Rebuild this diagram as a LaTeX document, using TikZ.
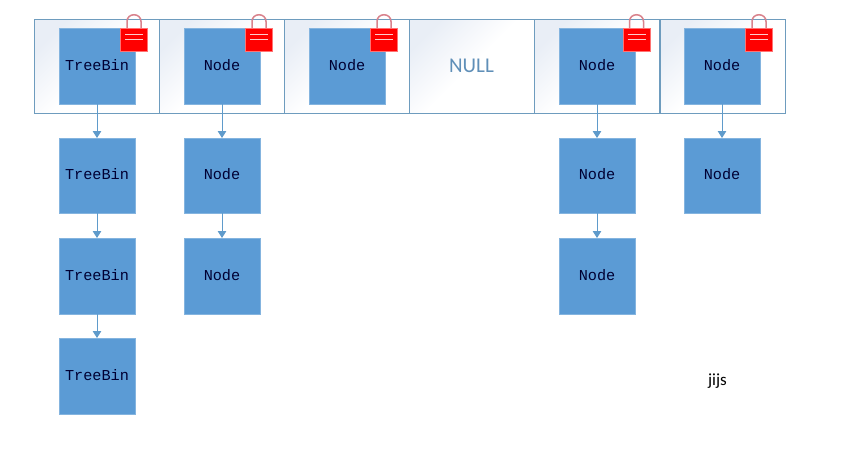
\documentclass[tikz,border=0pt]{standalone}
\usepackage{fontspec}
\setmainfont{Carlito}
\newfontfamily\codefont{Liberation Mono}
\usetikzlibrary{arrows.meta,shadows}
\definecolor{boxblue}{HTML}{5B9BD5}
\definecolor{cellline}{HTML}{6E9CBE}
\definecolor{arrowblue}{HTML}{5F9BCB}
\definecolor{nulltext}{HTML}{5F8FB8}
\definecolor{cellshade}{HTML}{E9EEF6}
\definecolor{shacklec}{HTML}{D9828C}
\tikzset{
  cellbox/.style={draw=cellline,line width=0.9pt,minimum width=125pt,minimum height=94pt,inner sep=0pt,outer sep=0pt,left color=cellshade,right color=white,middle color=white,shading angle=45},
  itembox/.style={fill=boxblue,draw=boxblue!75!white,line width=0.6pt,minimum width=76pt,minimum height=76pt,inner sep=0pt,outer sep=0pt,font=\codefont\fontsize{15.2}{16}\selectfont,text=black!80!blue,text height=10pt,text depth=2pt,drop shadow={shadow xshift=0pt,shadow yshift=-1pt,opacity=.18,fill=black}},
  lockbody/.style={fill=red,draw=red!55!white,line width=0.7pt,minimum width=27pt,minimum height=23pt,inner sep=0pt,outer sep=0pt,drop shadow={shadow xshift=0.5pt,shadow yshift=-0.5pt,opacity=.2,fill=black}},
  linkarrow/.style={draw=arrowblue,line width=1pt,-{Triangle[length=7pt,width=8.5pt,fill=arrowblue]}},
}
\newcommand{\padlock}[3]{%
  \draw[shacklec,line width=1.5pt,line cap=round] (#2-7,#3-11) -- (#2-7,#3-18) .. controls (#2-7,#3-27) and (#2+7,#3-27) .. (#2+7,#3-18) -- (#2+7,#3-11);
  \node[lockbody] (#1) at (#2,#3) {};
  \draw[white!80!red,line width=0.8pt] ([xshift=-9pt,yshift=-6pt]#1.north) -- ([xshift=9pt,yshift=-6pt]#1.north);
  \draw[white!80!red,line width=0.8pt] ([xshift=-9pt,yshift=-11pt]#1.north) -- ([xshift=9pt,yshift=-11pt]#1.north);
}
\begin{document}
\begin{tikzpicture}[x=1pt,y=-1pt]
\useasboundingbox (0,0) rectangle (860,451);
\fill[white] (0,0) rectangle (860,451);
% table cells
\node[cellbox] (c1) at (97,66) {};
\node[cellbox] (c2) at (221.5,66) {};
\node[cellbox] (c3) at (346.5,66) {};
\node[cellbox] (c4) at (471.5,66) {};
\node[cellbox] (c5) at (597,66) {};
\node[cellbox] (c6) at (722.5,66) {};
\node[font=\fontsize{21}{24}\selectfont,text=nulltext] (nullt) at (471.5,65.5) {NULL};
% column 1
\node[itembox] (a1) at (97,66) {TreeBin};
\node[itembox,minimum height=75pt] (a2) at (97,175.5) {TreeBin};
\node[itembox] (a3) at (97,276) {TreeBin};
\node[itembox] (a4) at (97,376) {TreeBin};
% column 2
\node[itembox] (b1) at (222,66) {Node};
\node[itembox,minimum height=75pt] (b2) at (222,175.5) {Node};
\node[itembox] (b3) at (222,276) {Node};
% column 3
\node[itembox] (d1) at (347,66) {Node};
% column 5
\node[itembox] (e1) at (597,66) {Node};
\node[itembox,minimum height=75pt] (e2) at (597,175.5) {Node};
\node[itembox] (e3) at (597,276) {Node};
% column 6
\node[itembox] (f1) at (722,66) {Node};
\node[itembox,minimum height=75pt] (f2) at (722,175.5) {Node};
% connectors
\draw[linkarrow] (a1) -- (a2);
\draw[linkarrow] (a2) -- (a3);
\draw[linkarrow] (a3) -- (a4);
\draw[linkarrow] (b1) -- (b2);
\draw[linkarrow] (b2) -- (b3);
\draw[linkarrow] (e1) -- (e2);
\draw[linkarrow] (e2) -- (e3);
\draw[linkarrow] (f1) -- (f2);
% locks
\padlock{l1}{134}{39.5}
\padlock{l2}{259}{39.5}
\padlock{l3}{384}{39.5}
\padlock{l5}{636.5}{39.5}
\padlock{l6}{759}{39.5}
\node[font=\fontsize{17}{20}\selectfont,text=black] (sig) at (717.5,381) {jijs};
\end{tikzpicture}
\end{document}
